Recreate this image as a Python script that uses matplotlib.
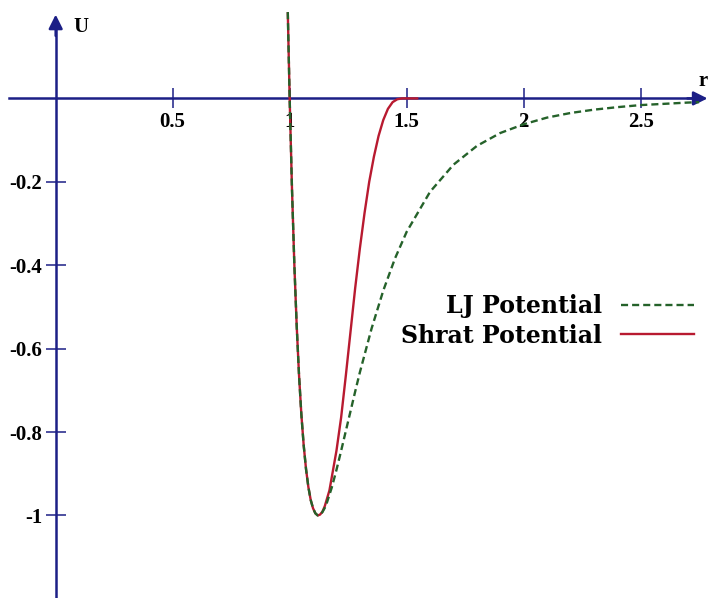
import matplotlib
matplotlib.use("Agg")
import matplotlib.pyplot as plt
from matplotlib.lines import Line2D

plt.rcParams["axes.unicode_minus"] = False

# Lennard-Jones potential (reduced units)
lj_r = [0.992, 1.00, 1.01, 1.02, 1.03, 1.04, 1.05, 1.06, 1.07, 1.08, 1.09,
        1.10, 1.11, 1.12, 1.13, 1.14, 1.15, 1.16, 1.18, 1.20, 1.22, 1.25,
        1.28, 1.30, 1.35, 1.40, 1.45, 1.50, 1.60, 1.70, 1.80, 1.90, 2.00,
        2.10, 2.20, 2.30, 2.40, 2.50, 2.60, 2.70, 2.75]
lj_u = [0.207, 0.0, -0.218, -0.398, -0.544, -0.663, -0.758, -0.832, -0.889,
        -0.932, -0.963, -0.983, -0.995, -1.000, -0.998, -0.992, -0.982,
        -0.968, -0.933, -0.891, -0.845, -0.774, -0.703, -0.657, -0.552,
        -0.461, -0.384, -0.320, -0.224, -0.159, -0.114, -0.083, -0.062,
        -0.046, -0.035, -0.027, -0.021, -0.016, -0.013, -0.010, -0.009]

# Shrat potential: follows LJ near the well, brought smoothly to zero by r = 1.5
sh_r = [0.992, 1.00, 1.01, 1.02, 1.03, 1.04, 1.05, 1.06, 1.07, 1.08, 1.09,
        1.10, 1.11, 1.12, 1.13, 1.14, 1.15, 1.17, 1.20, 1.22, 1.24, 1.26,
        1.28, 1.30, 1.32, 1.34, 1.36, 1.38, 1.40, 1.42, 1.44, 1.46, 1.48,
        1.50, 1.55]
sh_u = [0.207, 0.0, -0.218, -0.398, -0.544, -0.663, -0.758, -0.832, -0.889,
        -0.932, -0.963, -0.983, -0.995, -1.000, -0.998, -0.991, -0.978,
        -0.940, -0.845, -0.765, -0.665, -0.560, -0.455, -0.360, -0.275,
        -0.200, -0.140, -0.090, -0.052, -0.025, -0.009, -0.002, 0.0, 0.0, 0.0]

x_ticks = [0.5, 1, 1.5, 2, 2.5]
x_tick_labels = ["0.5", "1", "1.5", "2", "2.5"]
y_ticks = [-0.2, -0.4, -0.6, -0.8, -1]
y_tick_labels = ["-0.2", "-0.4", "-0.6", "-0.8", "-1"]

NAVY = "#1c1f86"
RED = "#b81a30"
GREEN = "#25622a"

tick_font = dict(family="Liberation Serif", weight="bold", size=15)
legend_font = dict(family="DejaVu Serif", weight="bold", size=17)

fig = plt.figure(figsize=(7.08, 5.98), dpi=100)
ax = fig.add_axes([0, 0, 1, 1])
ax.set_xlim(-0.238, 2.788)
ax.set_ylim(-1.198, 0.236)

# axes through the origin
for side in ("top", "right"):
    ax.spines[side].set_visible(False)
ax.spines["left"].set_position(("data", 0))
ax.spines["bottom"].set_position(("data", 0))
for side in ("left", "bottom"):
    ax.spines[side].set_color(NAVY)
    ax.spines[side].set_linewidth(1.8)
ax.spines["bottom"].set_bounds(-0.2, 2.74)
ax.spines["left"].set_bounds(-1.2, 0.18)

arrow = dict(arrowstyle="-|>,head_length=0.6,head_width=0.3", color=NAVY,
             lw=1.8, shrinkA=0, shrinkB=0, mutation_scale=14)
ax.annotate("", xy=(2.786, 0), xytext=(2.70, 0), arrowprops=arrow,
            annotation_clip=False)
ax.annotate("", xy=(0, 0.201), xytext=(0, 0.15), arrowprops=arrow,
            annotation_clip=False)

ax.set_xticks(x_ticks)
ax.set_xticklabels(x_tick_labels, fontdict=tick_font)
ax.set_yticks(y_ticks)
ax.set_yticklabels(y_tick_labels, fontdict=tick_font)
ax.tick_params(direction="inout", length=15, width=1.1, color=NAVY, pad=2,
               labelcolor="black")

ax.text(73 / 708, 1 - 27 / 598, "U", transform=fig.transFigure,
        ha="left", va="center", **tick_font)
ax.text(703 / 708, 1 - 81 / 598, "r", transform=fig.transFigure,
        ha="center", va="center", **tick_font)

# curves
dash = (3.0, 1.7)
ax.plot(sh_r, sh_u, color=RED, lw=1.7, solid_capstyle="butt", zorder=3)
ax.plot(lj_r, lj_u, color=GREEN, lw=1.7, linestyle=(0, dash), zorder=4)

handles = [Line2D([], [], color=GREEN, lw=1.7, linestyle=(0, dash)),
           Line2D([], [], color=RED, lw=1.7)]
ax.legend(handles, ["LJ Potential", "Shrat Potential"], markerfirst=False,
          frameon=False, prop=legend_font, handlelength=3.1,
          handletextpad=0.8, labelspacing=0.22, borderpad=0,
          borderaxespad=0, loc="center right",
          bbox_to_anchor=(694 / 708, 1 - 321 / 598),
          bbox_transform=fig.transFigure)

fig.savefig("out.png", dpi=100)
